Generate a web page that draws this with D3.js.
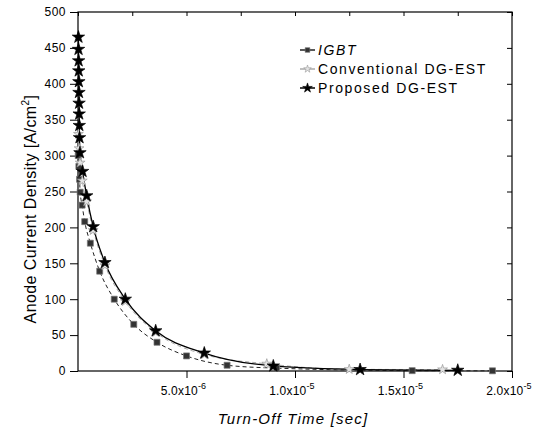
<!DOCTYPE html>
<html><head><meta charset="utf-8">
<script src="https://cdn.jsdelivr.net/npm/d3@7/dist/d3.min.js"></script>
<style>body{margin:0;background:#fff}svg{display:block}text{font-family:"Liberation Sans",Arial,sans-serif}</style>
</head><body><svg id="c" width="545" height="433"></svg>
<script>
// ---- data (time in seconds, current density in A/cm^2) ----
const igbtTime = [0.01e-6,0.04e-6,0.07e-6,0.10e-6,0.19e-6,0.31e-6,0.57e-6,1.0e-6,1.67e-6,2.57e-6,3.64e-6,5.0e-6,6.87e-6,9.15e-6,1.54e-5,1.91e-5];
const igbtValue = [300,285,267,249,231,208,178,139,100,65,40,21,8,4,0.5,0.3];
const convTime = [0.02e-6,0.05e-6,0.10e-6,0.20e-6,0.40e-6,0.70e-6,1.24e-6,2.18e-6,3.58e-6,5.82e-6,8.7e-6,1.25e-5,1.68e-5];
const convValue = [330,310,290,265,236,196,147,97,54,23,10,2.4,2];
const propTime = [0.02e-6,0.025e-6,0.03e-6,0.035e-6,0.04e-6,0.045e-6,0.05e-6,0.055e-6,0.06e-6,0.07e-6,0.09e-6,0.21e-6,0.40e-6,0.70e-6,1.24e-6,2.18e-6,3.58e-6,5.82e-6,9.0e-6,1.3e-5,1.75e-5];
const propValue = [465,448,432,418,403,388,373,358,342,325,304,278,244,201,151,100,56,25,7,2,1];
const seriesNames = ["IGBT","Conventional DG-EST","Proposed DG-EST"];
const xTickValues = [5e-6,1e-5,1.5e-5,2e-5];
const xTickMant = ["5.0","1.0","1.5","2.0"];
const xTickExp = ["-6","-5","-5","-5"];
const yTickValues = [0,50,100,150,200,250,300,350,400,450,500];

const svg = d3.select("#c");
const L=78,R=512,T=12,B=371;
const x = d3.scaleLinear().domain([0,2e-5]).range([L,R]);
const y = d3.scaleLinear().domain([0,500]).range([B,T]);

// frame
svg.append("rect").attr("x",L).attr("y",T).attr("width",R-L).attr("height",B-T)
  .attr("fill","none").attr("stroke","#000").attr("stroke-width",1.2);

// bottom axis: minor + major ticks
const minorX = d3.range(0,2.01e-5,2.5e-6);
const gb = svg.append("g").attr("transform",`translate(0,${B})`);
gb.call(d3.axisBottom(x).tickValues(minorX).tickSize(4).tickFormat(""));
gb.call(d3.axisBottom(x).tickValues(xTickValues).tickSize(7).tickFormat(""));
gb.selectAll(".domain").remove();
const xl = svg.append("g");
xTickValues.forEach((v,i)=>{
  const t = xl.append("text").attr("x",x(v)-3).attr("y",395).attr("text-anchor","middle")
    .attr("font-size",12).attr("letter-spacing",0.2);
  t.append("tspan").text(xTickMant[i]+"x10");
  t.append("tspan").attr("dy",-6).attr("font-size",9).text(xTickExp[i]);
});
// top axis
const gt = svg.append("g").attr("transform",`translate(0,${T})`);
gt.call(d3.axisBottom(x).tickValues(minorX).tickSize(4).tickFormat(""));
gt.selectAll(".domain").remove();

// left axis
const minorY = d3.range(0,501,25);
const gl = svg.append("g").attr("transform",`translate(${L},0)`);
gl.call(d3.axisLeft(y).tickValues(minorY).tickSize(4).tickFormat(""));
gl.call(d3.axisLeft(y).tickValues(yTickValues).tickSize(8).tickPadding(4).tickFormat(d3.format("d")));
gl.selectAll(".domain").remove();
gl.selectAll("text").attr("font-size",12).attr("fill","#000").attr("letter-spacing",0.5).style("font-family","Liberation Sans, Arial");
// right axis (inward)
const gr = svg.append("g").attr("transform",`translate(${R},0)`);
gr.call(d3.axisRight(y).tickValues(yTickValues).tickSize(-5).tickFormat(""));
gr.selectAll(".domain").remove();
svg.selectAll(".tick line").attr("stroke","#000");

// axis titles
svg.append("text").attr("x",293).attr("y",424).attr("text-anchor","middle")
  .attr("font-size",15).attr("font-style","italic").attr("letter-spacing",1.2).text("Turn-Off Time [sec]");
const yt = svg.append("text").attr("transform","translate(36,209) rotate(-90)").attr("text-anchor","middle")
  .attr("font-size",16).attr("letter-spacing",0.4);
yt.append("tspan").text("Anode Current Density [A/cm");
yt.append("tspan").attr("dy",-7).attr("font-size",10).text("2");
yt.append("tspan").attr("dy",7).text("]");

// series
const mk = (ts,vs)=>ts.map((t,i)=>({t,v:vs[i]}));
const series = [
  {name:seriesNames[0], data:mk(igbtTime,igbtValue), color:"#222", dash:"4,3", width:1, sym:d3.symbolSquare, size:36, fill:"#333", stroke:"#777"},
  {name:seriesNames[1], data:mk(convTime,convValue), color:"#aaa", dash:"4,3", width:1, sym:d3.symbolStar, size:30, fill:"#e4e4e4", stroke:"#999"},
  {name:seriesNames[2], data:mk(propTime,propValue), color:"#000", dash:null, width:1.3, sym:d3.symbolStar, size:48, fill:"#000", stroke:"#000"}
];
const line = d3.line().x(d=>x(d.t)).y(d=>y(d.v)).curve(d3.curveMonotoneX);
series.forEach(s=>{
  svg.append("path").datum(s.data).attr("d",line).attr("fill","none")
    .attr("stroke",s.color).attr("stroke-width",s.width).attr("stroke-dasharray",s.dash);
});
series.forEach(s=>{
  svg.append("g").selectAll("path").data(s.data).join("path")
    .attr("transform",d=>`translate(${x(d.t)},${y(d.v)})`)
    .attr("d",d3.symbol().type(s.sym).size(s.size))
    .attr("fill",s.fill).attr("stroke",s.stroke).attr("stroke-width",0.7);
});

// legend
const lg = svg.append("g");
series.forEach((s,i)=>{
  const yy = 50 + i*19;
  lg.append("line").attr("x1",300).attr("x2",315).attr("y1",yy).attr("y2",yy)
    .attr("stroke",s.color).attr("stroke-width",1.5);
  lg.append("path").attr("transform",`translate(307.5,${yy})`)
    .attr("d",d3.symbol().type(s.sym).size(s.size*0.6)).attr("fill",s.fill).attr("stroke",s.stroke).attr("stroke-width",0.6);
  lg.append("text").attr("x",318).attr("y",yy+5).attr("font-size",14).attr("letter-spacing",1.6)
    .attr("font-style", i==0?"italic":"normal").text(s.name);
});
</script></body></html>
